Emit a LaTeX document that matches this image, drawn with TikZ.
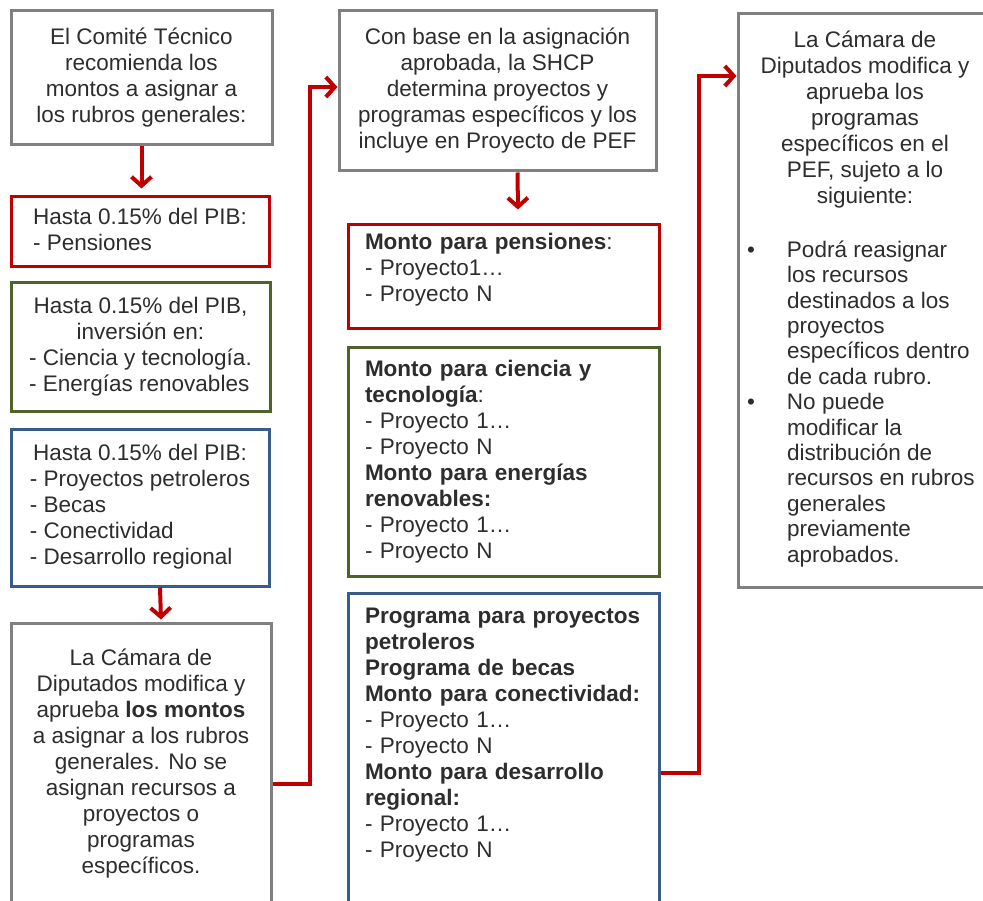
\documentclass[tikz,border=0pt]{standalone}
\usepackage{fontspec}
\setmainfont{Liberation Sans}
\usetikzlibrary{arrows.meta}
\definecolor{boxgray}{RGB}{128,128,128}
\definecolor{boxred}{RGB}{192,0,0}
\definecolor{boxgreen}{RGB}{79,98,40}
\definecolor{boxblue}{RGB}{56,93,138}
\definecolor{txtgray}{RGB}{45,45,45}
\newcommand{\titulo}[1]{\multicolumn{1}{@{}c@{}}{#1}}
\newcommand{\vineta}{\makebox[40pt][l]{•}}
\begin{document}
\begin{tikzpicture}[x=1pt,y=-1pt,
	box/.style={draw=#1,line width=3pt,fill=white,inner sep=0pt,text=txtgray,
		font=\fontsize{22.5}{26}\selectfont},
	link/.style={draw=boxred,line width=4pt,-{Straight Barb[length=9pt,width=20pt]}}]
	\useasboundingbox (0,0) rectangle (983,901);
	% columna 1
	\node[box=boxgray,minimum width=261,minimum height=134,align=center] (comite) at (141.5,78)
		{El Comité Técnico\\recomienda los\\montos a asignar a\\los rubros generales:};
	\node[box=boxred,minimum width=258,minimum height=70] (pib1) at (140,232)
		{\begin{tabular}{@{}l@{}}\titulo{Hasta 0.15\% del PIB:}\\- Pensiones\end{tabular}};
	\node[box=boxgreen,minimum width=259,minimum height=128] (pib2) at (140.5,347)
		{\begin{tabular}{@{}l@{}}\titulo{Hasta 0.15\% del PIB,}\\\titulo{inversión en:}\\- Ciencia y tecnología.\\- Energías renovables\end{tabular}};
	\node[box=boxblue,minimum width=258,minimum height=157] (pib3) at (140,507.5)
		{\begin{tabular}{@{}l@{}}\titulo{Hasta 0.15\% del PIB:}\\- Proyectos petroleros\\- Becas\\- Conectividad\\- Desarrollo regional\end{tabular}};
	\node[box=boxgray,minimum width=260,minimum height=282,align=center] (camara1) at (141,764)
		{La Cámara de\\Diputados modifica y\\aprueba \textbf{los montos}\\a asignar a los rubros\\generales. No se\\asignan recursos a\\proyectos o\\programas\\específicos.};
	% columna 2
	\node[box=boxgray,minimum width=317,minimum height=160,align=center] (shcp) at (497.5,91)
		{Con base en la asignación\\aprobada, la SHCP\\determina proyectos y\\programas específicos y los\\incluye en Proyecto de PEF};
	\node[box=boxred,minimum width=311,text width=277,align=left,text height=25,text depth=79] (montos1) at (503.5,277)
		{\begin{tabular}[t]{@{}l@{}}\textbf{Monto para pensiones}:\\- Proyecto1…\\- Proyecto N\end{tabular}};
	\node[box=boxgreen,minimum width=311,minimum height=228,text width=277,align=left] (montos2) at (503.5,462)
		{\begin{tabular}{@{}l@{}}\textbf{Monto para ciencia y}\\\textbf{tecnología}:\\- Proyecto 1…\\- Proyecto N\\
		\textbf{Monto para energías}\\\textbf{renovables:}\\- Proyecto 1…\\- Proyecto N\end{tabular}};
	\node[box=boxblue,minimum width=311,text width=277,align=left,text height=30,text depth=287] (montos3) at (503.5,751.5)
		{\begin{tabular}[t]{@{}l@{}}\textbf{Programa para proyectos}\\\textbf{petroleros}\\\textbf{Programa de becas}\\
		\textbf{Monto para conectividad:}\\- Proyecto 1…\\- Proyecto N\\\textbf{Monto para desarrollo}\\
		\textbf{regional:}\\- Proyecto 1…\\- Proyecto N\end{tabular}};
	% columna 3
	\node[box=boxgray,minimum width=254,minimum height=573] (camara2) at (865,300.5)
		{\begin{minipage}{236pt}\centering
		La Cámara de\\Diputados modifica y\\aprueba los\\programas\\específicos en el\\PEF, sujeto a lo\\siguiente:\par
		\vspace{30pt}\raggedright\fontsize{22.5}{25.4}\selectfont
		\begin{tabular}{@{}l@{}l@{}}
		\vineta&Podrá reasignar\\&los recursos\\&destinados a los\\&proyectos\\&específicos dentro\\&de cada rubro.\\
		\vineta&No puede\\&modificar la\\&distribución de\\&recursos en rubros\\&generales\\&previamente\\&aprobados.
		\end{tabular}
		\end{minipage}};
	% flechas
	\draw[link] (comite.south) -- ([yshift=7]comite.south |- pib1.north);
	\draw[link] ([xshift=20]pib3.south) -- ([xshift=20,yshift=2]camara1.north);
	\draw[link] ([xshift=20]shcp.south) -- ([xshift=14.5,yshift=14]montos1.north);
	\draw[link] ([yshift=-20]camara1.east) -- ++(37,0) |- ([yshift=4]shcp.west);
	\draw[link] ([yshift=-21.5]montos3.east) -- ++(38,0) |- ([yshift=224.5]camara2.west);
\end{tikzpicture}
\end{document}
